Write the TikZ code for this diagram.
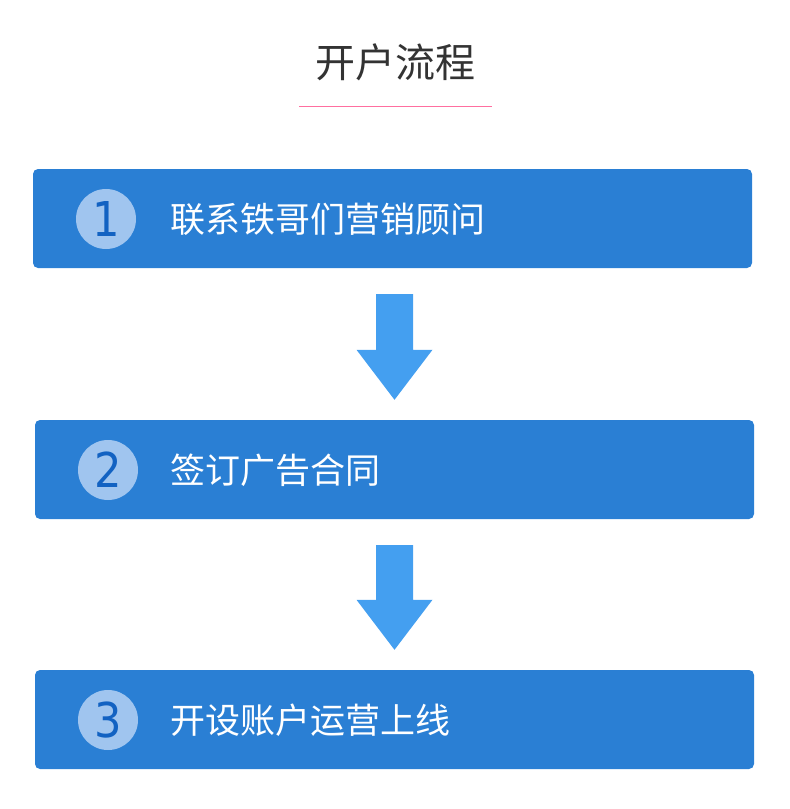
\documentclass[tikz,border=0pt]{standalone}
\usepackage{fontspec}
\newfontfamily\cjk{Noto Sans CJK SC}
\newfontfamily\digitfont{DejaVu Sans Condensed}
\usetikzlibrary{positioning,calc}
\definecolor{boxblue}{HTML}{2A7FD4}
\definecolor{arrowblue}{HTML}{449FF0}
\definecolor{circblue}{HTML}{A0C5EF}
\definecolor{numblue}{HTML}{1262C2}
\definecolor{titlegray}{HTML}{333333}
\definecolor{linepink}{HTML}{FF6FA0}

\begin{document}
\begin{tikzpicture}[x=1pt, y=-1pt,
        stepbox/.style={fill=boxblue, rounded corners=5pt, minimum width=719pt,
            minimum height=99pt, inner sep=0pt},
        numcirc/.style={circle, fill=circblue, minimum size=60pt, inner sep=0pt,
            text=numblue, font=\digitfont\fontsize{48}{48}\selectfont},
        steptext/.style={anchor=west, text=white, inner sep=0pt,
            font=\cjk\fontsize{35}{35}\selectfont}]
        \useasboundingbox (0,0) rectangle (790,809);
        % title
        \node[text=titlegray, font=\cjk\fontsize{40}{40}\selectfont] (title) at (395,62) {开户流程};
        \draw[linepink, line width=1pt] (299,106) -- (492,106);
        % steps
        \node[stepbox] (box1) at (392.5,218.5) {};
        \node[stepbox] (box2) at (394.5,469.5) {};
        \node[stepbox] (box3) at (394.5,719.5) {};
        \node[numcirc] (num1) at (106,219) {1};
        \node[numcirc] (num2) at (108,470) {2};
        \node[numcirc] (num3) at (108,720) {3};
        \node[steptext] (text1) at (170,219) {联系铁哥们营销顾问};
        \node[steptext] (text2) at (170,470) {签订广告合同};
        \node[steptext] (text3) at (170,720) {开设账户运营上线};
        % arrows
        \foreach \a/\b in {box1/box2, box2/box3} {
            \coordinate (tip) at ($(\b.north)+(0,-20)$);
            \coordinate (top) at ($(tip |- \a.south)+(0,26)$);
            \fill[arrowblue] ($(top)+(-18.5,0)$) -- ($(top)+(18.5,0)$)
                -- ($(tip)+(18.5,-50)$) -- ($(tip)+(38,-50)$) -- (tip)
                -- ($(tip)+(-38,-50)$) -- ($(tip)+(-18.5,-50)$) -- cycle;
        }
    \end{tikzpicture}
\end{document}
